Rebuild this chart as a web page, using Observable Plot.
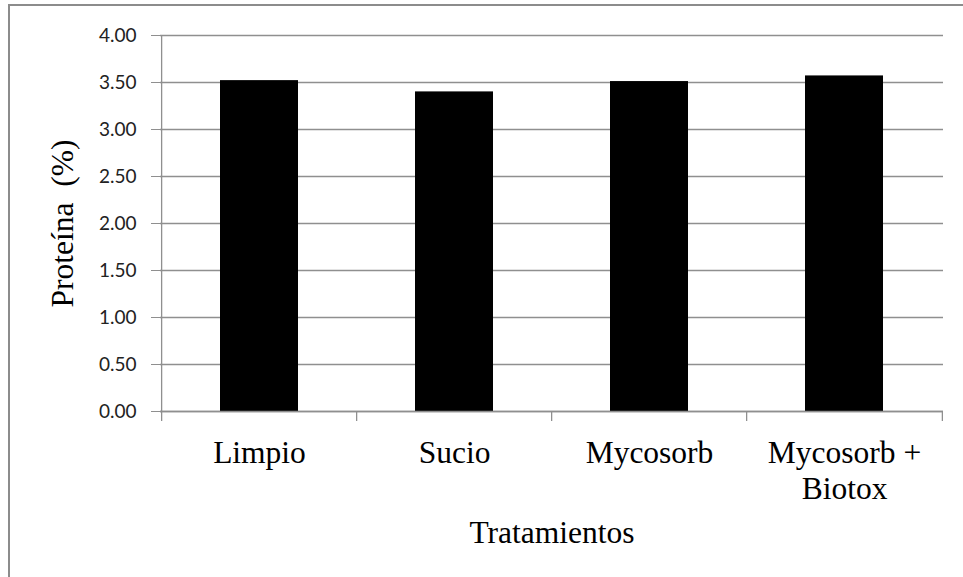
<!DOCTYPE html>
<html><head><meta charset="utf-8">
<script src="https://cdn.jsdelivr.net/npm/d3@7"></script>
<script src="https://cdn.jsdelivr.net/npm/@observablehq/plot@0.6"></script>
<style>
html,body{margin:0;padding:0;background:#fff;overflow:hidden}
#wrap{position:relative;width:963px;height:577px;overflow:hidden}
#border{position:absolute;left:8px;top:4px;width:1000px;height:1000px;border-left:2px solid #8c8c8c;border-top:2px solid #8c8c8c}
#chart{position:absolute;left:0;top:0}
</style></head><body>
<div id="wrap"><div id="border"></div><div id="chart"></div></div>
<script>
const categories = ["Limpio", "Sucio", "Mycosorb", "Mycosorb + Biotox"];
const tickLabels = ["Limpio", "Sucio", "Mycosorb", "Mycosorb +\nBiotox"];
const proteina = [3.52, 3.40, 3.51, 3.57];
const yTicks = [0, 0.5, 1, 1.5, 2, 2.5, 3, 3.5, 4];
const yTitle = "Proteína  (%)";
const xTitle = "Tratamientos";

const data = categories.map((c, i) => ({cat: c, value: proteina[i]}));
const W = 963, H = 577, mL = 160, mR = 20, mT = 35, mB = 166;
const step = (W - mL - mR) / categories.length;
const grid = "#8f8f8f";
const serif = "Liberation Serif, Times New Roman, serif";

const chart = Plot.plot({
  width: W, height: H,
  marginLeft: mL, marginRight: mR, marginTop: mT, marginBottom: mB,
  style: {background: "transparent", fontFamily: "Lato, sans-serif", overflow: "visible"},
  x: {domain: categories, paddingInner: 0.6, paddingOuter: 0.3},
  y: {domain: [0, 4]},
  marks: [
    Plot.gridY(yTicks, {stroke: grid, strokeOpacity: 1, strokeWidth: 1.3}),
    Plot.barY(data, {x: "cat", y: "value", fill: "#000"}),
    Plot.ruleY([0], {stroke: grid, strokeWidth: 1.3}),
    Plot.ruleX(categories.slice(0, 1), {x: d => d, dx: -step / 2, stroke: grid, strokeWidth: 1.3}),
    Plot.axisY({ticks: yTicks, tickFormat: d3.format(".2f"), tickSize: 9, tickPadding: 15,
      stroke: grid, fontSize: 19, fill: "#222", label: null}),
    Plot.axisX({ticks: categories, tickSize: 10, tickFormat: () => "", dx: -step / 2,
      stroke: grid, strokeWidth: 1.3, label: null}),
    Plot.axisX({ticks: categories.slice(-1), tickSize: 10, tickFormat: () => "", dx: step / 2,
      stroke: grid, strokeWidth: 1.3, label: null}),
    Plot.axisX({ticks: categories, tickSize: 0, tickPadding: 26,
      tickFormat: d => tickLabels[categories.indexOf(d)],
      fontSize: 31.5, fontFamily: serif, lineHeight: 1.15, fill: "#000", label: null}),
    Plot.text([yTitle], {text: d => d, frameAnchor: "left", textAnchor: "middle", rotate: -90, dx: -98,
      fontSize: 31.5, fontFamily: serif, fill: "#000"}),
    Plot.text([xTitle], {text: d => d, frameAnchor: "bottom", lineAnchor: "bottom", dy: 131,
      fontSize: 31.5, fontFamily: serif, fill: "#000"})
  ]
});
document.getElementById("chart").appendChild(chart);
</script>
</body></html>
